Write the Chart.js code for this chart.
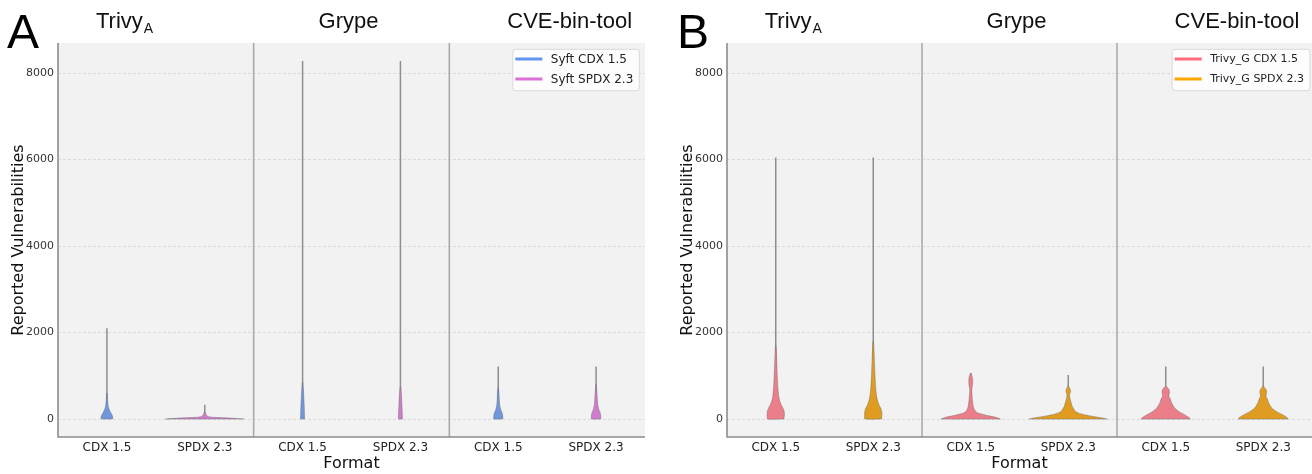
<!DOCTYPE html>
<html><head><meta charset="utf-8">
<script src="https://cdn.jsdelivr.net/npm/chart.js@4.4.1/dist/chart.umd.min.js"></script>
<style>
html,body{margin:0;padding:0;background:#fff;overflow:hidden}
#wrap{position:relative;width:1312px;height:474px}
canvas{position:absolute;top:0}
</style></head><body>
<div id="wrap">
<canvas id="cA" width="656" height="474" style="left:0"></canvas>
<canvas id="cB" width="643" height="474" style="left:669px"></canvas>
</div>
<script>
// ---------------- DATA ----------------
const groupNames = ['Trivy', 'Grype', 'CVE-bin-tool'];
const groupSubscripts = ['A', '', ''];
const formatLabels = ['CDX 1.5', 'SPDX 2.3', 'CDX 1.5', 'SPDX 2.3', 'CDX 1.5', 'SPDX 2.3'];
const xPositions = [0, 1, 2, 3, 4, 5];
const yTicks = [0, 2000, 4000, 6000, 8000];
const seriesA = ['Syft CDX 1.5', 'Syft SPDX 2.3'];
const seriesB = ['Trivy_G CDX 1.5', 'Trivy_G SPDX 2.3'];

// Panel A (Syft SBOMs) – violin profiles: value levels and density (half width, category units)
const syftCdxTrivyLevels  = [0, 40, 100, 150, 200, 260, 330, 450, 600];
const syftCdxTrivyDensity = [0.056, 0.061, 0.051, 0.039, 0.027, 0.018, 0.012, 0.007, 0.002];
const syftSpdxTrivyLevels  = [0, 20, 40, 60, 90, 130, 170];
const syftSpdxTrivyDensity = [0.399, 0.286, 0.082, 0.031, 0.018, 0.010, 0.003];
const syftCdxGrypeLevels  = [0, 100, 300, 500, 700, 850];
const syftCdxGrypeDensity = [0.020, 0.020, 0.017, 0.013, 0.008, 0.002];
const syftSpdxGrypeLevels  = [0, 100, 300, 500, 650, 750];
const syftSpdxGrypeDensity = [0.020, 0.020, 0.016, 0.012, 0.007, 0.002];
const syftCdxCveLevels  = [0, 60, 138, 215, 330, 450, 550, 650, 720];
const syftCdxCveDensity = [0.046, 0.047, 0.041, 0.026, 0.015, 0.011, 0.009, 0.006, 0.002];
const syftSpdxCveLevels  = [0, 60, 138, 215, 330, 450, 550, 650, 750, 800];
const syftSpdxCveDensity = [0.046, 0.049, 0.043, 0.029, 0.018, 0.014, 0.011, 0.008, 0.004, 0.002];
const syftMax = [2100, 330, 8280, 8280, 1215, 1215];

// Panel B (Trivy_G SBOMs)
const trivyGCdxTrivyLevels  = [0, 100, 175, 250, 330, 420, 520, 650, 800, 1000, 1300, 1500, 1700];
const trivyGCdxTrivyDensity = [0.084, 0.089, 0.087, 0.075, 0.056, 0.041, 0.031, 0.025, 0.020, 0.016, 0.011, 0.008, 0.003];
const trivyGSpdxTrivyLevels  = [0, 100, 175, 250, 330, 420, 520, 650, 800, 1000, 1300, 1550, 1800];
const trivyGSpdxTrivyDensity = [0.085, 0.089, 0.087, 0.077, 0.059, 0.045, 0.035, 0.028, 0.023, 0.018, 0.013, 0.009, 0.003];
const trivyGCdxGrypeLevels  = [0, 40, 80, 140, 200, 290, 450, 600, 680, 750, 850, 950, 1020, 1060];
const trivyGCdxGrypeDensity = [0.304, 0.256, 0.174, 0.072, 0.041, 0.026, 0.017, 0.012, 0.010, 0.016, 0.020, 0.018, 0.010, 0.003];
const trivyGSpdxGrypeLevels  = [0, 30, 60, 100, 140, 177, 293, 408, 500, 560, 640, 700, 740, 770];
const trivyGSpdxGrypeDensity = [0.399, 0.338, 0.256, 0.164, 0.102, 0.072, 0.041, 0.026, 0.016, 0.013, 0.024, 0.018, 0.008, 0.002];
const trivyGCdxCveLevels  = [0, 40, 99, 176, 254, 370, 469, 522, 570, 624, 680, 720, 760];
const trivyGCdxCveDensity = [0.253, 0.235, 0.194, 0.133, 0.092, 0.061, 0.046, 0.033, 0.034, 0.039, 0.033, 0.020, 0.003];
const trivyGSpdxCveLevels  = [0, 40, 99, 176, 254, 370, 469, 522, 570, 624, 680, 720, 760];
const trivyGSpdxCveDensity = [0.256, 0.240, 0.199, 0.133, 0.087, 0.056, 0.041, 0.029, 0.031, 0.035, 0.029, 0.016, 0.003];
const trivyGMax = [6050, 6050, 1060, 1020, 1215, 1215];

// ---------------- BUILD ----------------
const dividers = [1.5, 3.5];
const titleCenters = [0.18, 2.47, 4.73];

function outline(pos, levels, dens) {
  const right = levels.map((v, i) => ({x: pos + dens[i], y: v}));
  const left = levels.map((v, i) => ({x: pos - dens[i], y: v})).reverse();
  return right.concat(left, [right[0]]);
}

const decoPlugin = {
  id: 'deco',
  beforeDraw(chart, args, o) {
    const {ctx, chartArea: a} = chart;
    ctx.save();
    ctx.fillStyle = '#f2f2f2';
    ctx.fillRect(a.left, a.top, a.right - a.left, a.bottom - a.top);
    ctx.restore();
  },
  afterDatasetsDraw(chart, args, o) {
    const {ctx, chartArea: a, scales: {x}} = chart;
    ctx.save();
    ctx.strokeStyle = '#ababab';
    ctx.lineWidth = 1.6;
    dividers.forEach(d => {
      const px = x.getPixelForValue(d);
      ctx.beginPath(); ctx.moveTo(px, a.top); ctx.lineTo(px, a.bottom); ctx.stroke();
    });
    ctx.strokeStyle = '#8c8c8c';
    ctx.lineWidth = 1.6;
    ctx.beginPath();
    ctx.moveTo(a.left, a.top); ctx.lineTo(a.left, a.bottom); ctx.lineTo(a.right, a.bottom);
    ctx.stroke();
    ctx.restore();
  },
  afterDraw(chart, args, o) {
    const {ctx, chartArea: a, scales: {x}} = chart;
    ctx.save();
    // panel letter
    ctx.fillStyle = '#000';
    ctx.textBaseline = 'alphabetic';
    ctx.textAlign = 'left';
    ctx.font = '48px "Liberation Sans", Arial, sans-serif';
    ctx.fillText(o.letter, o.letterX, 48);
    // group titles
    groupNames.forEach((g, i) => {
      const cx = x.getPixelForValue(titleCenters[i]);
      const mainFont = '22px "Liberation Sans", Arial, sans-serif';
      const subFont = '14px "Liberation Sans", Arial, sans-serif';
      ctx.font = mainFont;
      const wMain = ctx.measureText(g).width;
      let wSub = 0;
      if (groupSubscripts[i]) { ctx.font = subFont; wSub = ctx.measureText(groupSubscripts[i]).width + 1; }
      const start = cx - (wMain + wSub) / 2;
      ctx.font = mainFont;
      ctx.fillStyle = '#111';
      ctx.fillText(g, start, 28);
      if (groupSubscripts[i]) {
        ctx.font = subFont;
        ctx.fillText(groupSubscripts[i], start + wMain + 1, 33);
      }
    });
    // legend
    ctx.font = o.legendFont;
    const tw = Math.max(...o.series.map(s => ctx.measureText(s).width));
    const bw = 38 + tw + 6;
    const right = a.right - o.legendGap;
    const left = right - bw;
    const top = 49.3, h = 41.4;
    ctx.beginPath();
    if (ctx.roundRect) ctx.roundRect(left, top, bw, h, 3); else ctx.rect(left, top, bw, h);
    ctx.fillStyle = 'rgba(255,255,255,0.85)';
    ctx.fill();
    ctx.strokeStyle = '#d9d9d9';
    ctx.lineWidth = 1;
    ctx.stroke();
    o.series.forEach((s, i) => {
      const yy = 59 + i * 20;
      ctx.strokeStyle = o.legendColors[i];
      ctx.lineWidth = 3;
      ctx.beginPath(); ctx.moveTo(left + 2.5, yy); ctx.lineTo(left + 29.5, yy); ctx.stroke();
      ctx.fillStyle = '#222';
      ctx.textBaseline = 'middle';
      ctx.fillText(s, left + 38, yy + 0.5);
    });
    ctx.restore();
  }
};

function buildChart(id, cfg) {
  const datasets = [];
  cfg.violins.forEach((v, i) => {
    datasets.push({
      data: outline(xPositions[i], v[0], v[1]),
      backgroundColor: cfg.fills[i % 2],
      borderColor: 'rgba(105,105,105,0.55)',
      borderWidth: 0.8,
      pointRadius: 0,
      fill: 'shape',
      tension: 0.15,
      order: 0
    });
    datasets.push({
      data: [{x: xPositions[i], y: 0}, {x: xPositions[i], y: cfg.max[i]}],
      borderColor: '#8e8e8e',
      borderWidth: 1.5,
      pointRadius: 0,
      fill: false,
      order: 1
    });
  });
  return new Chart(document.getElementById(id), {
    type: 'line',
    data: {datasets},
    plugins: [decoPlugin],
    options: {
      responsive: false, animation: false, devicePixelRatio: 1, events: [],
      layout: {padding: {left: 0, top: 43, right: cfg.padRight, bottom: 0}},
      plugins: {
        legend: {display: false}, tooltip: {enabled: false},
        deco: {letter: cfg.letter, letterX: cfg.letterX, series: cfg.series, legendColors: cfg.legendColors,
               legendGap: cfg.legendGap, legendFont: cfg.legendFont}
      },
      scales: {
        x: {
          type: 'linear', min: -0.5, max: 5.5,
          afterBuildTicks: s => { s.ticks = xPositions.map(v => ({value: v})); },
          afterFit: s => { s.height = 37; },
          ticks: {callback: v => formatLabels[v] ?? '', autoSkip: false, maxRotation: 0, minRotation: 0, padding: 3.5,
                  font: {family: 'DejaVu Sans', size: 12}, color: '#222'},
          grid: {display: false, drawTicks: false, tickLength: 0},
          border: {display: false},
          title: {display: true, text: 'Format', font: {family: 'DejaVu Sans', size: 16}, color: '#111', padding: {top: 0, bottom: 1}}
        },
        y: {
          type: 'linear', min: -416, max: 8697,
          afterBuildTicks: s => { s.ticks = yTicks.map(v => ({value: v})); },
          afterFit: s => { s.width = 58; },
          ticks: {callback: v => String(v), padding: 4, font: {family: 'DejaVu Sans', size: 11}, color: '#333'},
          grid: {color: '#d4d4d4', lineWidth: 0.8, drawTicks: false},
          border: {display: false, dash: [3, 2]},
          title: {display: true, text: 'Reported Vulnerabilities', font: {family: 'DejaVu Sans', size: 16}, color: '#111', padding: {top: 9, bottom: 0}}
        }
      }
    }
  });
}

buildChart('cA', {
  letter: 'A', letterX: 7, padRight: 11, legendGap: 5.7, legendFont: '12px "DejaVu Sans"',
  series: seriesA, legendColors: ['#6495ED', '#DA70D6'],
  fills: ['#7097dc', '#d07bcc'],
  violins: [
    [syftCdxTrivyLevels, syftCdxTrivyDensity], [syftSpdxTrivyLevels, syftSpdxTrivyDensity],
    [syftCdxGrypeLevels, syftCdxGrypeDensity], [syftSpdxGrypeLevels, syftSpdxGrypeDensity],
    [syftCdxCveLevels, syftCdxCveDensity], [syftSpdxCveLevels, syftSpdxCveDensity]
  ],
  max: syftMax
});
buildChart('cB', {
  letter: 'B', letterX: 8, padRight: 0, legendGap: 2, legendFont: '11px "DejaVu Sans"',
  series: seriesB, legendColors: ['#FF6B7B', '#FFA500'],
  fills: ['#ec7e89', '#df9c20'],
  violins: [
    [trivyGCdxTrivyLevels, trivyGCdxTrivyDensity], [trivyGSpdxTrivyLevels, trivyGSpdxTrivyDensity],
    [trivyGCdxGrypeLevels, trivyGCdxGrypeDensity], [trivyGSpdxGrypeLevels, trivyGSpdxGrypeDensity],
    [trivyGCdxCveLevels, trivyGCdxCveDensity], [trivyGSpdxCveLevels, trivyGSpdxCveDensity]
  ],
  max: trivyGMax
});
</script>
</body></html>
